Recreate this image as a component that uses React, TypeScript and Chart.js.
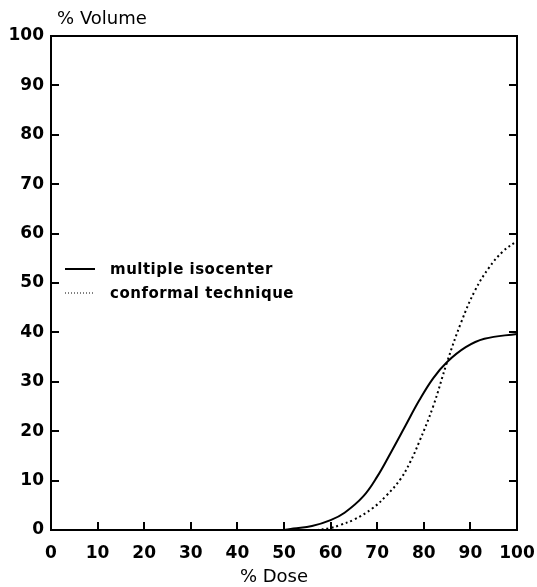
import React, { useEffect, useRef } from "react";
import { Chart, registerables } from "chart.js";

Chart.register(...registerables);

// Multiple isocenter (solid)
const multiDose = [50, 52, 56, 60, 63, 67, 70, 73, 76, 79, 82, 85, 89, 93, 100];
const multiVolume = [0, 0.3, 0.8, 2.0, 3.5, 6.8, 10.8, 15.8, 21.0, 26.2, 30.7, 34.0, 37.0, 38.7, 39.7];

// Conformal technique (dotted)
const confDose = [57, 60, 62, 65, 69, 72, 75, 77, 79, 82, 85, 88, 91, 94, 97, 100];
const confVolume = [0, 0.4, 1.0, 2.1, 4.4, 7.0, 10.3, 13.6, 17.8, 25.0, 34.0, 42.0, 48.5, 53.1, 56.4, 58.5];

const seriesLabels = ["multiple isocenter", "conformal technique"];
const xTitle = "% Dose";
const yTitle = "% Volume";

const FONT = "'DejaVu Sans', sans-serif";

const framePlugin = {
  id: "frame",
  afterDatasetsDraw(chart: any) {
    const { ctx, chartArea, scales } = chart;
    const { left, right, top, bottom } = chartArea;
    ctx.save();
    ctx.strokeStyle = "#000";
    ctx.lineWidth = 2;
    ctx.strokeRect(left, top, right - left, bottom - top);
    const tl = 8;
    ctx.beginPath();
    scales.y.ticks.forEach((t: any) => {
      if (t.value <= 0 || t.value >= 100) return;
      const y = Math.round(scales.y.getPixelForValue(t.value));
      ctx.moveTo(left, y);
      ctx.lineTo(left + tl, y);
      ctx.moveTo(right, y);
      ctx.lineTo(right - tl, y);
    });
    scales.x.ticks.forEach((t: any) => {
      if (t.value <= 0 || t.value >= 100) return;
      const x = Math.round(scales.x.getPixelForValue(t.value));
      ctx.moveTo(x, bottom);
      ctx.lineTo(x, bottom - tl);
    });
    ctx.stroke();

    // axis titles
    ctx.fillStyle = "#000";
    ctx.font = `18px ${FONT}`;
    ctx.textAlign = "center";
    ctx.textBaseline = "middle";
    ctx.fillText(yTitle, 102, 19);
    ctx.fillText(xTitle, 274, 577);

    // legend
    const lx0 = 65, lx1 = 95, tx = 110;
    const rows = [269, 293];
    ctx.lineWidth = 2;
    ctx.beginPath();
    ctx.moveTo(lx0, rows[0]);
    ctx.lineTo(lx1, rows[0]);
    ctx.stroke();
    ctx.lineWidth = 1;
    ctx.setLineDash([1, 2]);
    ctx.beginPath();
    ctx.moveTo(lx0, rows[1]);
    ctx.lineTo(lx1, rows[1]);
    ctx.stroke();
    ctx.setLineDash([]);
    ctx.font = `bold 15px ${FONT}`;
    (ctx as any).letterSpacing = "0.5px";
    ctx.textAlign = "left";
    ctx.fillText(seriesLabels[0], tx, rows[0] + 1);
    ctx.fillText(seriesLabels[1], tx, rows[1] + 1);
    ctx.restore();
  },
};

export default function App() {
  const ref = useRef<HTMLCanvasElement>(null);
  useEffect(() => {
    if (!ref.current) return;
    const chart = new Chart(ref.current, {
      type: "line",
      data: {
        datasets: [
          {
            label: seriesLabels[0],
            data: multiDose.map((d, i) => ({ x: d, y: multiVolume[i] })),
            borderColor: "#000",
            borderWidth: 2,
            pointRadius: 0,
            tension: 0.4,
            fill: false,
          },
          {
            label: seriesLabels[1],
            data: confDose.map((d, i) => ({ x: d, y: confVolume[i] })),
            borderColor: "#000",
            borderWidth: 2,
            borderDash: [2, 3],
            pointRadius: 0,
            tension: 0.4,
            fill: false,
          },
        ],
      },
      options: {
        animation: false,
        responsive: false,
        maintainAspectRatio: false,
        layout: { padding: { left: 0, top: 36, right: 20, bottom: 0 } },
        plugins: { legend: { display: false }, tooltip: { enabled: false } },
        scales: {
          x: {
            type: "linear",
            min: 0,
            max: 100,
            grid: { display: false, drawTicks: false },
            border: { display: false },
            ticks: {
              stepSize: 10,
              color: "#000",
              padding: 13,
              font: { family: FONT, size: 17, weight: "bold" },
            },
            afterFit: (s: any) => {
              s.height = 57;
              s.paddingLeft = 0;
              s.paddingRight = 0;
            },
          },
          y: {
            min: 0,
            max: 100,
            grid: { display: false, drawTicks: false },
            border: { display: false },
            ticks: {
              stepSize: 10,
              color: "#000",
              padding: 7,
              font: { family: FONT, size: 17, weight: "bold" },
            },
            afterFit: (s: any) => {
              s.width = 51;
              s.paddingTop = 0;
              s.paddingBottom = 0;
            },
          },
        },
      },
      plugins: [framePlugin],
    });
    return () => chart.destroy();
  }, []);
  return (
    <div style={{ position: "absolute", left: 0, top: 0, width: 537, height: 587, background: "#fff" }}>
      <canvas ref={ref} width={537} height={587} style={{ display: "block" }} />
    </div>
  );
}
